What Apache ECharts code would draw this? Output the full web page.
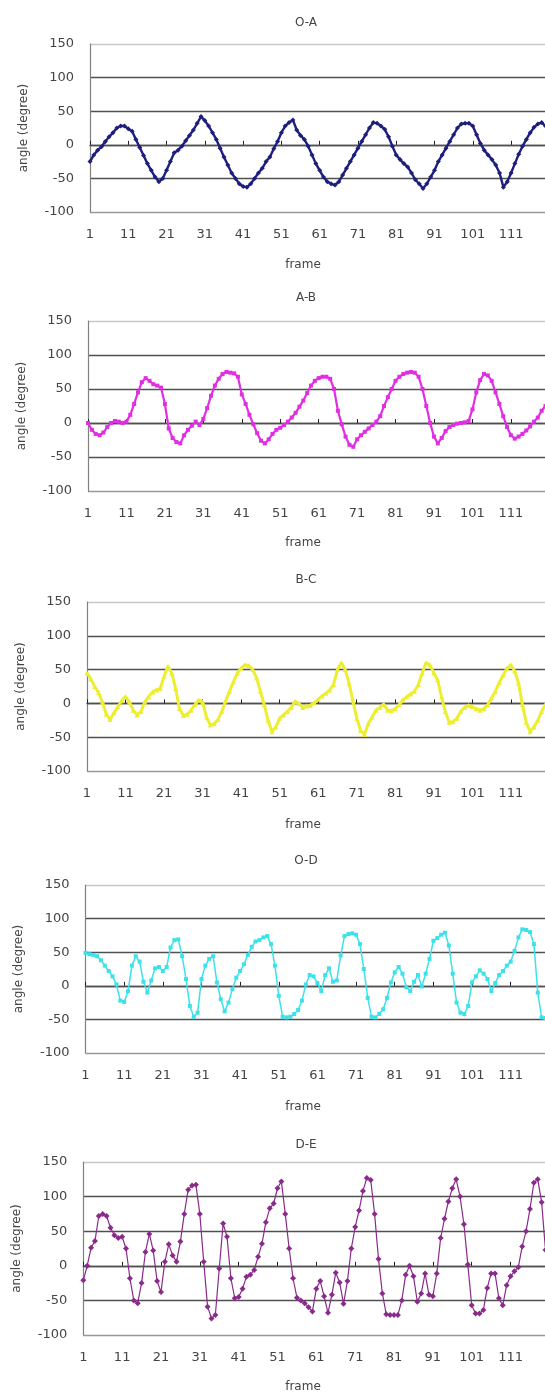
<!DOCTYPE html>
<html><head><meta charset="utf-8">
<script src="https://cdn.jsdelivr.net/npm/echarts@6/dist/echarts.min.js"></script>
<style>html,body{margin:0;padding:0;background:#fff;overflow:hidden}#c{width:545px;height:1399px}</style>
</head><body><div id="c"></div>
<script>
// frame categories 1..120
const frames = Array.from({length:120}, (_, i) => String(i + 1));
const yTicks = [-100, -50, 0, 50, 100, 150];
const titles = ['O-A', 'A-B', 'B-C', 'O-D', 'D-E'];

const oa = [
 -25,-15,-8,-3,5,12,18,25,28,28,
 24,20,8,-4,-16,-28,-38,-48,-55,-50,
 -38,-25,-12,-8,-2,6,14,22,32,42,
 36,28,18,8,-5,-18,-30,-42,-50,-58,
 -62,-63,-58,-50,-42,-35,-25,-18,-6,5,
 18,28,33,37,22,14,8,-2,-15,-28,
 -38,-48,-55,-58,-60,-55,-45,-35,-25,-15,
 -5,5,15,25,33,32,28,23,12,-2,
 -15,-22,-28,-33,-42,-52,-58,-65,-58,-48,
 -38,-25,-15,-5,5,15,25,31,32,32,
 28,15,2,-8,-15,-22,-30,-42,-63,-55,
 -42,-28,-14,-2,8,18,26,31,33,28
];
const ab = [
 0,-10,-16,-18,-14,-6,0,3,2,0,
 2,12,28,45,60,66,62,57,55,52,
 28,-8,-22,-28,-30,-18,-10,-4,2,-3,
 6,22,40,55,65,72,75,74,73,68,
 42,28,12,-2,-15,-26,-30,-24,-16,-10,
 -7,-3,2,8,15,24,33,44,55,62,
 66,68,68,65,50,18,-2,-20,-32,-35,
 -24,-18,-13,-8,-3,2,10,25,38,50,
 62,68,72,74,75,74,68,50,25,0,
 -20,-30,-22,-12,-6,-3,-1,0,1,3,
 20,45,63,72,70,62,45,28,10,-6,
 -18,-23,-20,-16,-11,-5,2,8,18,25
];
const bc = [
 45,36,25,16,2,-16,-24,-14,-5,4,
 10,2,-10,-17,-12,2,10,17,20,22,
 40,55,45,22,-8,-18,-16,-10,-2,5,
 2,-20,-32,-30,-24,-12,4,18,32,45,
 52,57,56,50,38,18,-2,-25,-42,-35,
 -22,-17,-12,-6,3,0,-6,-4,-3,1,
 6,11,15,20,28,50,60,50,30,4,
 -22,-40,-46,-30,-20,-10,-6,-1,-10,-11,
 -8,-2,5,10,14,18,28,45,60,57,
 45,35,10,-12,-28,-27,-22,-12,-6,-3,
 -5,-8,-10,-8,-2,8,18,31,42,52,
 57,48,30,-2,-28,-42,-35,-25,-12,-1
];
const od = [
 49,47,46,44,38,30,22,14,2,-22,
 -24,-8,30,44,36,6,-10,8,26,28,
 22,28,57,68,69,44,10,-30,-46,-40,
 10,30,40,44,5,-20,-38,-25,-5,12,
 22,32,46,58,66,68,72,74,62,30,
 -15,-46,-47,-46,-42,-36,-22,2,16,14,
 4,-8,16,26,6,8,45,74,77,78,
 76,62,25,-18,-46,-47,-42,-35,-18,5,
 20,28,18,-2,-8,6,16,-1,18,40,
 67,71,76,79,60,18,-25,-40,-42,-30,
 5,14,23,18,10,-8,4,16,22,30,
 36,52,72,84,83,80,62,-10,-47,-48
];
const de = [
 -21,0,26,36,72,75,72,55,44,40,
 42,25,-18,-50,-54,-25,20,46,22,-22,
 -38,6,31,15,6,35,75,110,116,117,
 75,6,-59,-76,-71,-4,61,42,-18,-47,
 -45,-33,-16,-13,-6,13,32,63,83,90,
 112,122,75,25,-18,-46,-50,-54,-60,-66,
 -33,-22,-44,-68,-42,-10,-24,-55,-22,25,
 56,80,108,127,124,75,10,-40,-70,-71,
 -71,-71,-50,-13,0,-15,-52,-40,-11,-42,
 -44,-11,40,68,93,112,125,100,60,2,
 -57,-69,-69,-64,-32,-11,-11,-47,-57,-28,
 -15,-8,-2,28,50,82,120,125,92,23
];
const seriesData = [oa, ab, bc, od, de];

// styles & layout (not data)
const styles = [
 {color:'#1e1e7e', width:2.4, symbol:'diamond', size:5},
 {color:'#e22ee2', width:2.2, symbol:'rect', size:4},
 {color:'#eeee30', width:3, symbol:'triangle', size:5},
 {color:'#3be2ea', width:1.5, symbol:'rect', size:4},
 {color:'#8a2a8a', width:1.2, symbol:'diamond', size:6}
];
const layout = [
 {left:90,  top:44,   height:168, titleY:23,   frameY:265,  yTitleX:24},
 {left:88,  top:321,  height:170, titleY:298,  frameY:543,  yTitleX:22},
 {left:87,  top:602,  height:169, titleY:580,  frameY:825,  yTitleX:21},
 {left:85.5,top:885,  height:168, titleY:861,  frameY:1107, yTitleX:19},
 {left:83.3,top:1162, height:173, titleY:1145, frameY:1387, yTitleX:17}
];
const FONT = '"DejaVu Sans", "Liberation Sans", sans-serif';
const TXT = '#444';

const grid = [], xAxis = [], yAxis = [], series = [], graphic = [];
layout.forEach((L, i) => {
  grid.push({left:L.left, top:L.top, height:L.height, width:545 - L.left + 0.5, outerBoundsMode:'none', containLabel:false});
  yAxis.push({
    type:'value', gridIndex:i, min:yTicks[0], max:yTicks[yTicks.length-1], interval:50,
    axisLine:{show:true, lineStyle:{color:'#808080', width:1.2}},
    axisTick:{show:false},
    axisLabel:{fontSize:13, color:TXT, margin:16, fontFamily:FONT},
    splitLine:{show:true, lineStyle:{color:['#999999','#505050','#505050','#505050','#505050','#c8c8c8'], width:1.4}}
  });
  xAxis.push({
    type:'category', gridIndex:i, data:frames, boundaryGap:false, position:'bottom',
    axisLine:{show:false, onZero:false}, axisTick:{show:false},
    axisLabel:{interval:9, fontSize:13, color:TXT, margin:16, fontFamily:FONT},
    splitLine:{show:false}
  });
  xAxis.push({
    type:'category', gridIndex:i, data:frames, boundaryGap:false, position:'bottom',
    axisLine:{show:true, onZero:true, lineStyle:{color:'#505050', width:1.4}},
    axisTick:{show:true, inside:true, length:4, interval:9, lineStyle:{color:'#222', width:1}},
    axisLabel:{show:false}, splitLine:{show:false}
  });
  const s = styles[i];
  series.push({
    type:'line', xAxisIndex:2*i, yAxisIndex:i, data:seriesData[i],
    symbol:s.symbol, symbolSize:s.size, showSymbol:true, showAllSymbol:true,
    lineStyle:{color:s.color, width:s.width}, itemStyle:{color:s.color},
    animation:false, silent:true, z:5
  });
  graphic.push({type:'text', x:306, y:L.titleY, style:{text:titles[i], fill:TXT, fontSize:12, fontFamily:FONT, align:'center', verticalAlign:'middle'}});
  graphic.push({type:'text', x:303, y:L.frameY, style:{text:'frame', fill:TXT, fontSize:12, fontFamily:FONT, align:'center', verticalAlign:'middle'}});
  graphic.push({type:'text', x:L.yTitleX, y:L.top + L.height/2, rotation:Math.PI/2, style:{text:'angle (degree)', fill:TXT, fontSize:12, fontFamily:FONT, align:'center', verticalAlign:'middle'}});
});

const chart = echarts.init(document.getElementById('c'), null, {renderer:'canvas'});
chart.setOption({backgroundColor:'#ffffff', animation:false, grid, xAxis, yAxis, series, graphic});
</script></body></html>
